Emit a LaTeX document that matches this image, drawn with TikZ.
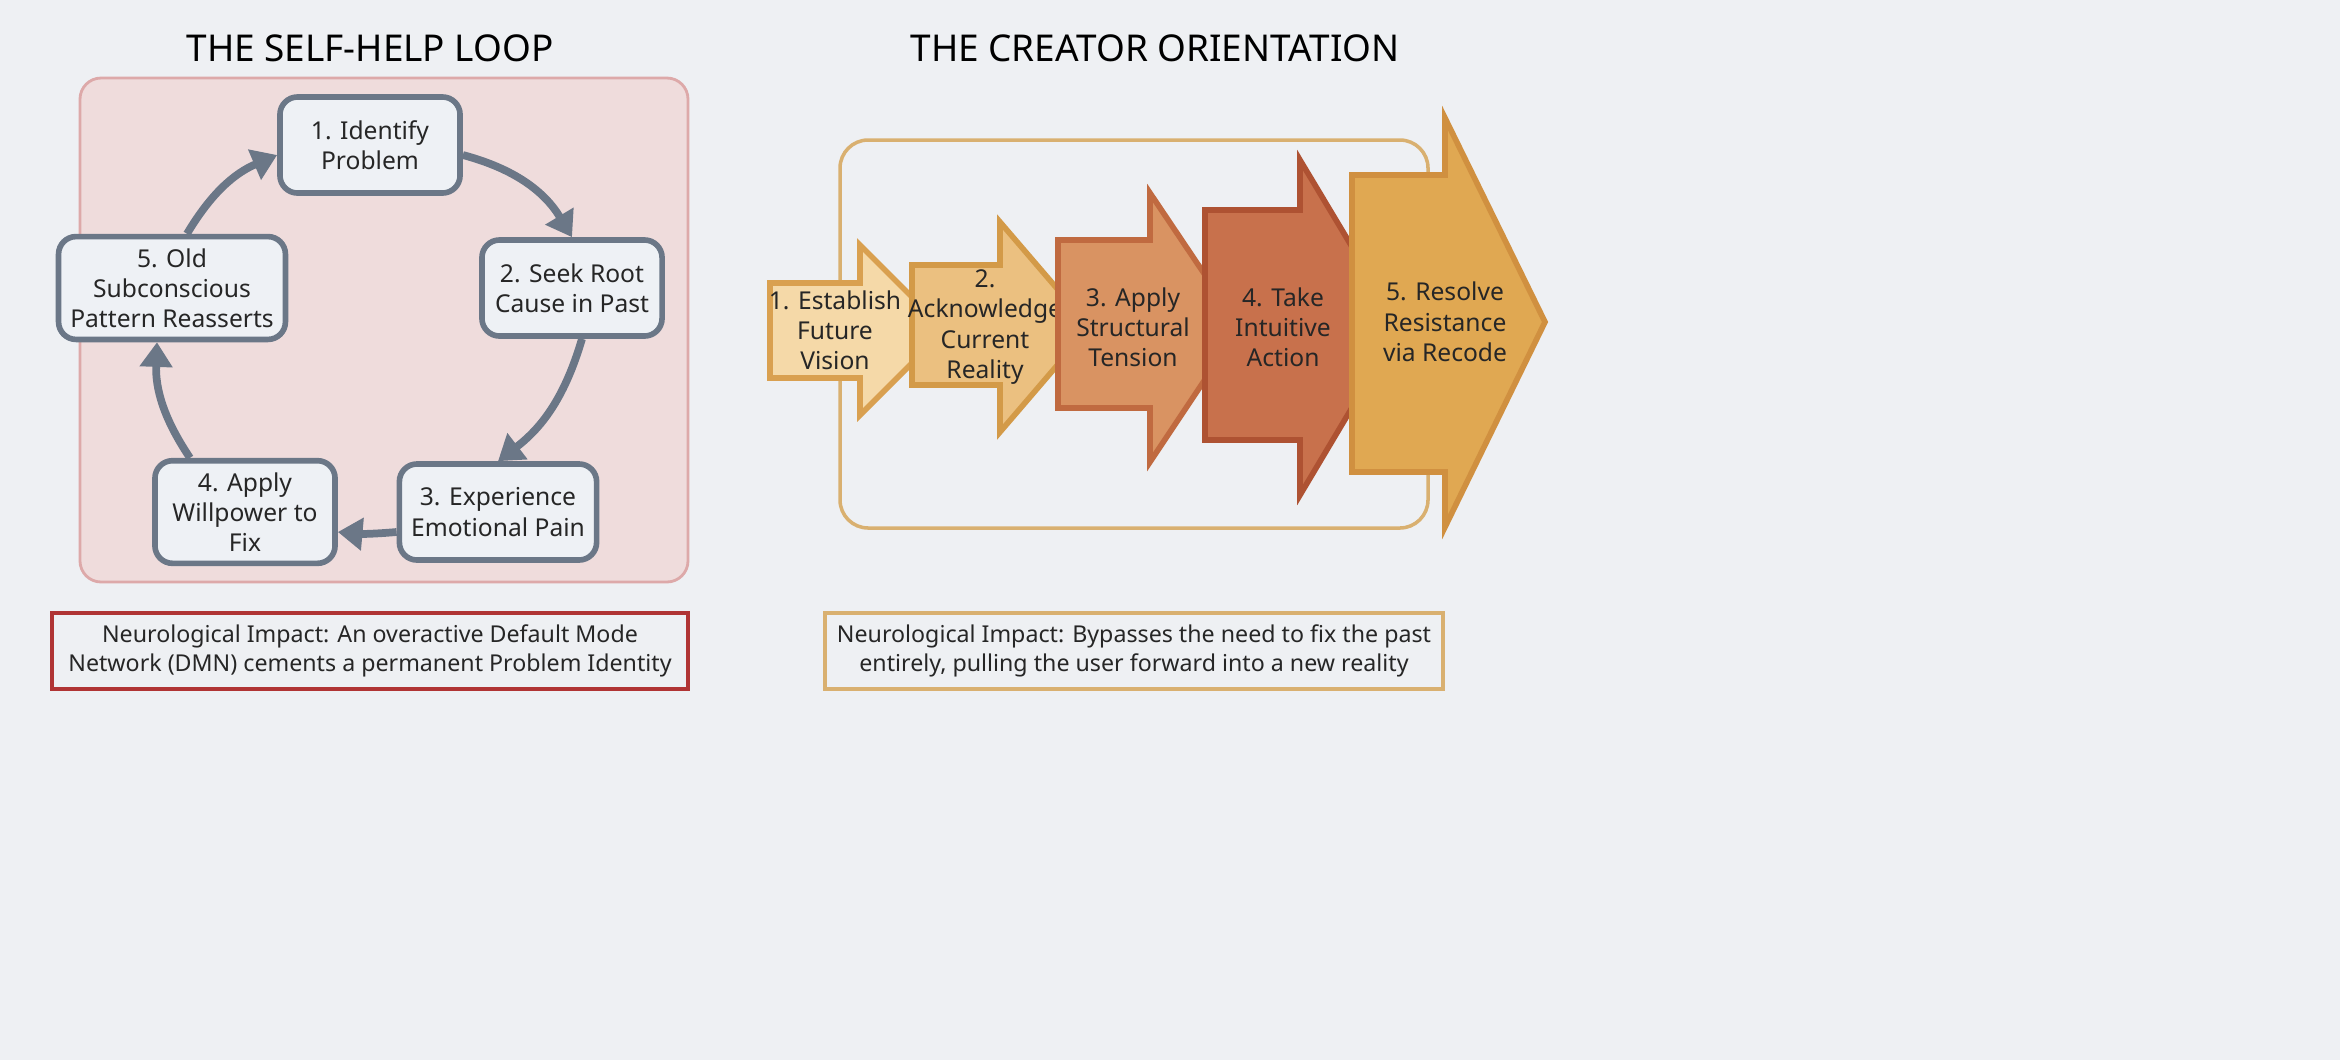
\documentclass[tikz,border=0pt]{standalone}
\usepackage{fontspec}
\setmainfont{Noto Sans}
\usetikzlibrary{arrows.meta,calc}
\definecolor{bg}{HTML}{EEF0F3}
\definecolor{pinkbg}{HTML}{EFDCDC}
\definecolor{pinkbd}{HTML}{DDA9A9}
\definecolor{boxf}{HTML}{EEF1F5}
\definecolor{boxd}{HTML}{6B7787}
\definecolor{redbd}{HTML}{B03434}
\definecolor{goldbd}{HTML}{D9B070}
\definecolor{aOne}{HTML}{F5D9A8}\definecolor{bOne}{HTML}{D9A050}
\definecolor{aTwo}{HTML}{EBC080}\definecolor{bTwo}{HTML}{D39A48}
\definecolor{aThr}{HTML}{D99362}\definecolor{bThr}{HTML}{C06A40}
\definecolor{aFou}{HTML}{C8714C}\definecolor{bFou}{HTML}{AE5232}
\definecolor{aFiv}{HTML}{E0A852}\definecolor{bFiv}{HTML}{D09040}
\tikzset{
 loopbox/.style={draw=boxd,fill=boxf,line width=1.6pt,rounded corners=5pt,minimum width=1.8cm,minimum height=0.96cm,align=center,font=\fontsize{7}{8.6}\selectfont,text=black!85},
 looparr/.style={draw=boxd,line width=2.2pt,-{Triangle[length=7pt,width=9pt]}},
 ttl/.style={font=\fontsize{10.5}{12}\selectfont\bfseries},
 captext/.style={font=\fontsize{6.6}{8.4}\selectfont,align=center,text=black!85},
 atxt/.style={font=\fontsize{7}{8.6}\selectfont,align=center,text=black!85}
}
\begin{document}
\begin{tikzpicture}[x=0.01cm,y=-0.01cm]
\fill[bg] (0,0) rectangle (2340,1060);
\useasboundingbox (0,0) rectangle (2340,1060);
\node[ttl] (t1) at (370,48) {THE SELF-HELP LOOP};
\node[ttl] (t2) at (1155,48) {THE CREATOR ORIENTATION};
\draw[pinkbd,fill=pinkbg,line width=0.8pt,rounded corners=6pt] (80,78) rectangle (688,582);
\node[loopbox] (n1) at (370,145) {1. Identify\\Problem};
\node[loopbox] (n2) at (572,288) {2. Seek Root\\Cause in Past};
\node[loopbox] (n3) at (498,512) {3. Experience\\Emotional Pain};
\node[loopbox] (n4) at (245,512) {4. Apply\\Willpower to\\Fix};
\node[loopbox,minimum width=2.05cm] (n5) at (172,288) {5. Old\\Subconscious\\Pattern Reasserts};
\draw[looparr] ($(n1.east)+(0,10)$) to[bend left=22] (n2.north);
\draw[looparr] ($(n2.south)+(10,0)$) to[bend left=18] (n3.north);
\draw[looparr] ($(n3.west)+(0,20)$) to[bend left=5] ($(n4.east)+(0,20)$);
\draw[looparr] ($(n4.north)+(-55,0)$) to[bend left=18] ($(n5.south)+(-15,0)$);
\draw[looparr] ($(n5.north)+(15,0)$) to[bend left=18] ($(n1.west)+(0,10)$);
\node[draw=redbd,fill=bg,line width=1pt,minimum width=6.36cm,minimum height=0.73cm,captext] (c1) at (370,651) {\textbf{Neurological Impact:} An overactive Default Mode\\Network (DMN) cements a permanent Problem Identity};
\node[draw=goldbd,fill=bg,line width=1pt,minimum width=5.88cm,minimum height=0.73cm,captext] (c2) at (1134,651) {\textbf{Neurological Impact:} Bypasses the need to fix the past\\entirely, pulling the user forward into a new reality};
\draw[goldbd,line width=1pt,rounded corners=8pt] (840,140) rectangle (1428,528);
% arrows
\draw[bOne,fill=aOne,line width=1.6pt] (770,283)--(860,283)--(860,245)--(945,330)--(860,415)--(860,378)--(770,378)--cycle;
\node[atxt] (a1) at (835,330) {1. Establish\\Future\\Vision};
\draw[bTwo,fill=aTwo,line width=1.6pt] (912,265)--(1000,265)--(1000,222)--(1090,327)--(1000,432)--(1000,385)--(912,385)--cycle;
\node[atxt] (a2) at (985,327) {2.\\Acknowledge\\Current\\Reality};
\draw[bThr,fill=aThr,line width=1.6pt] (1058,240)--(1150,240)--(1150,193)--(1240,327)--(1150,462)--(1150,408)--(1058,408)--cycle;
\node[atxt] (a3) at (1133,327) {3. Apply\\Structural\\Tension};
\draw[bFou,fill=aFou,line width=1.6pt] (1205,210)--(1300,210)--(1300,160)--(1400,327)--(1300,495)--(1300,440)--(1205,440)--cycle;
\node[atxt] (a4) at (1283,327) {4. Take\\Intuitive\\Action};
\draw[bFiv,fill=aFiv,line width=1.6pt] (1352,175)--(1445,175)--(1445,118)--(1545,322)--(1445,527)--(1445,472)--(1352,472)--cycle;
\node[atxt] (a5) at (1445,322) {5. Resolve\\Resistance\\via Recode};
\end{tikzpicture}
\end{document}
